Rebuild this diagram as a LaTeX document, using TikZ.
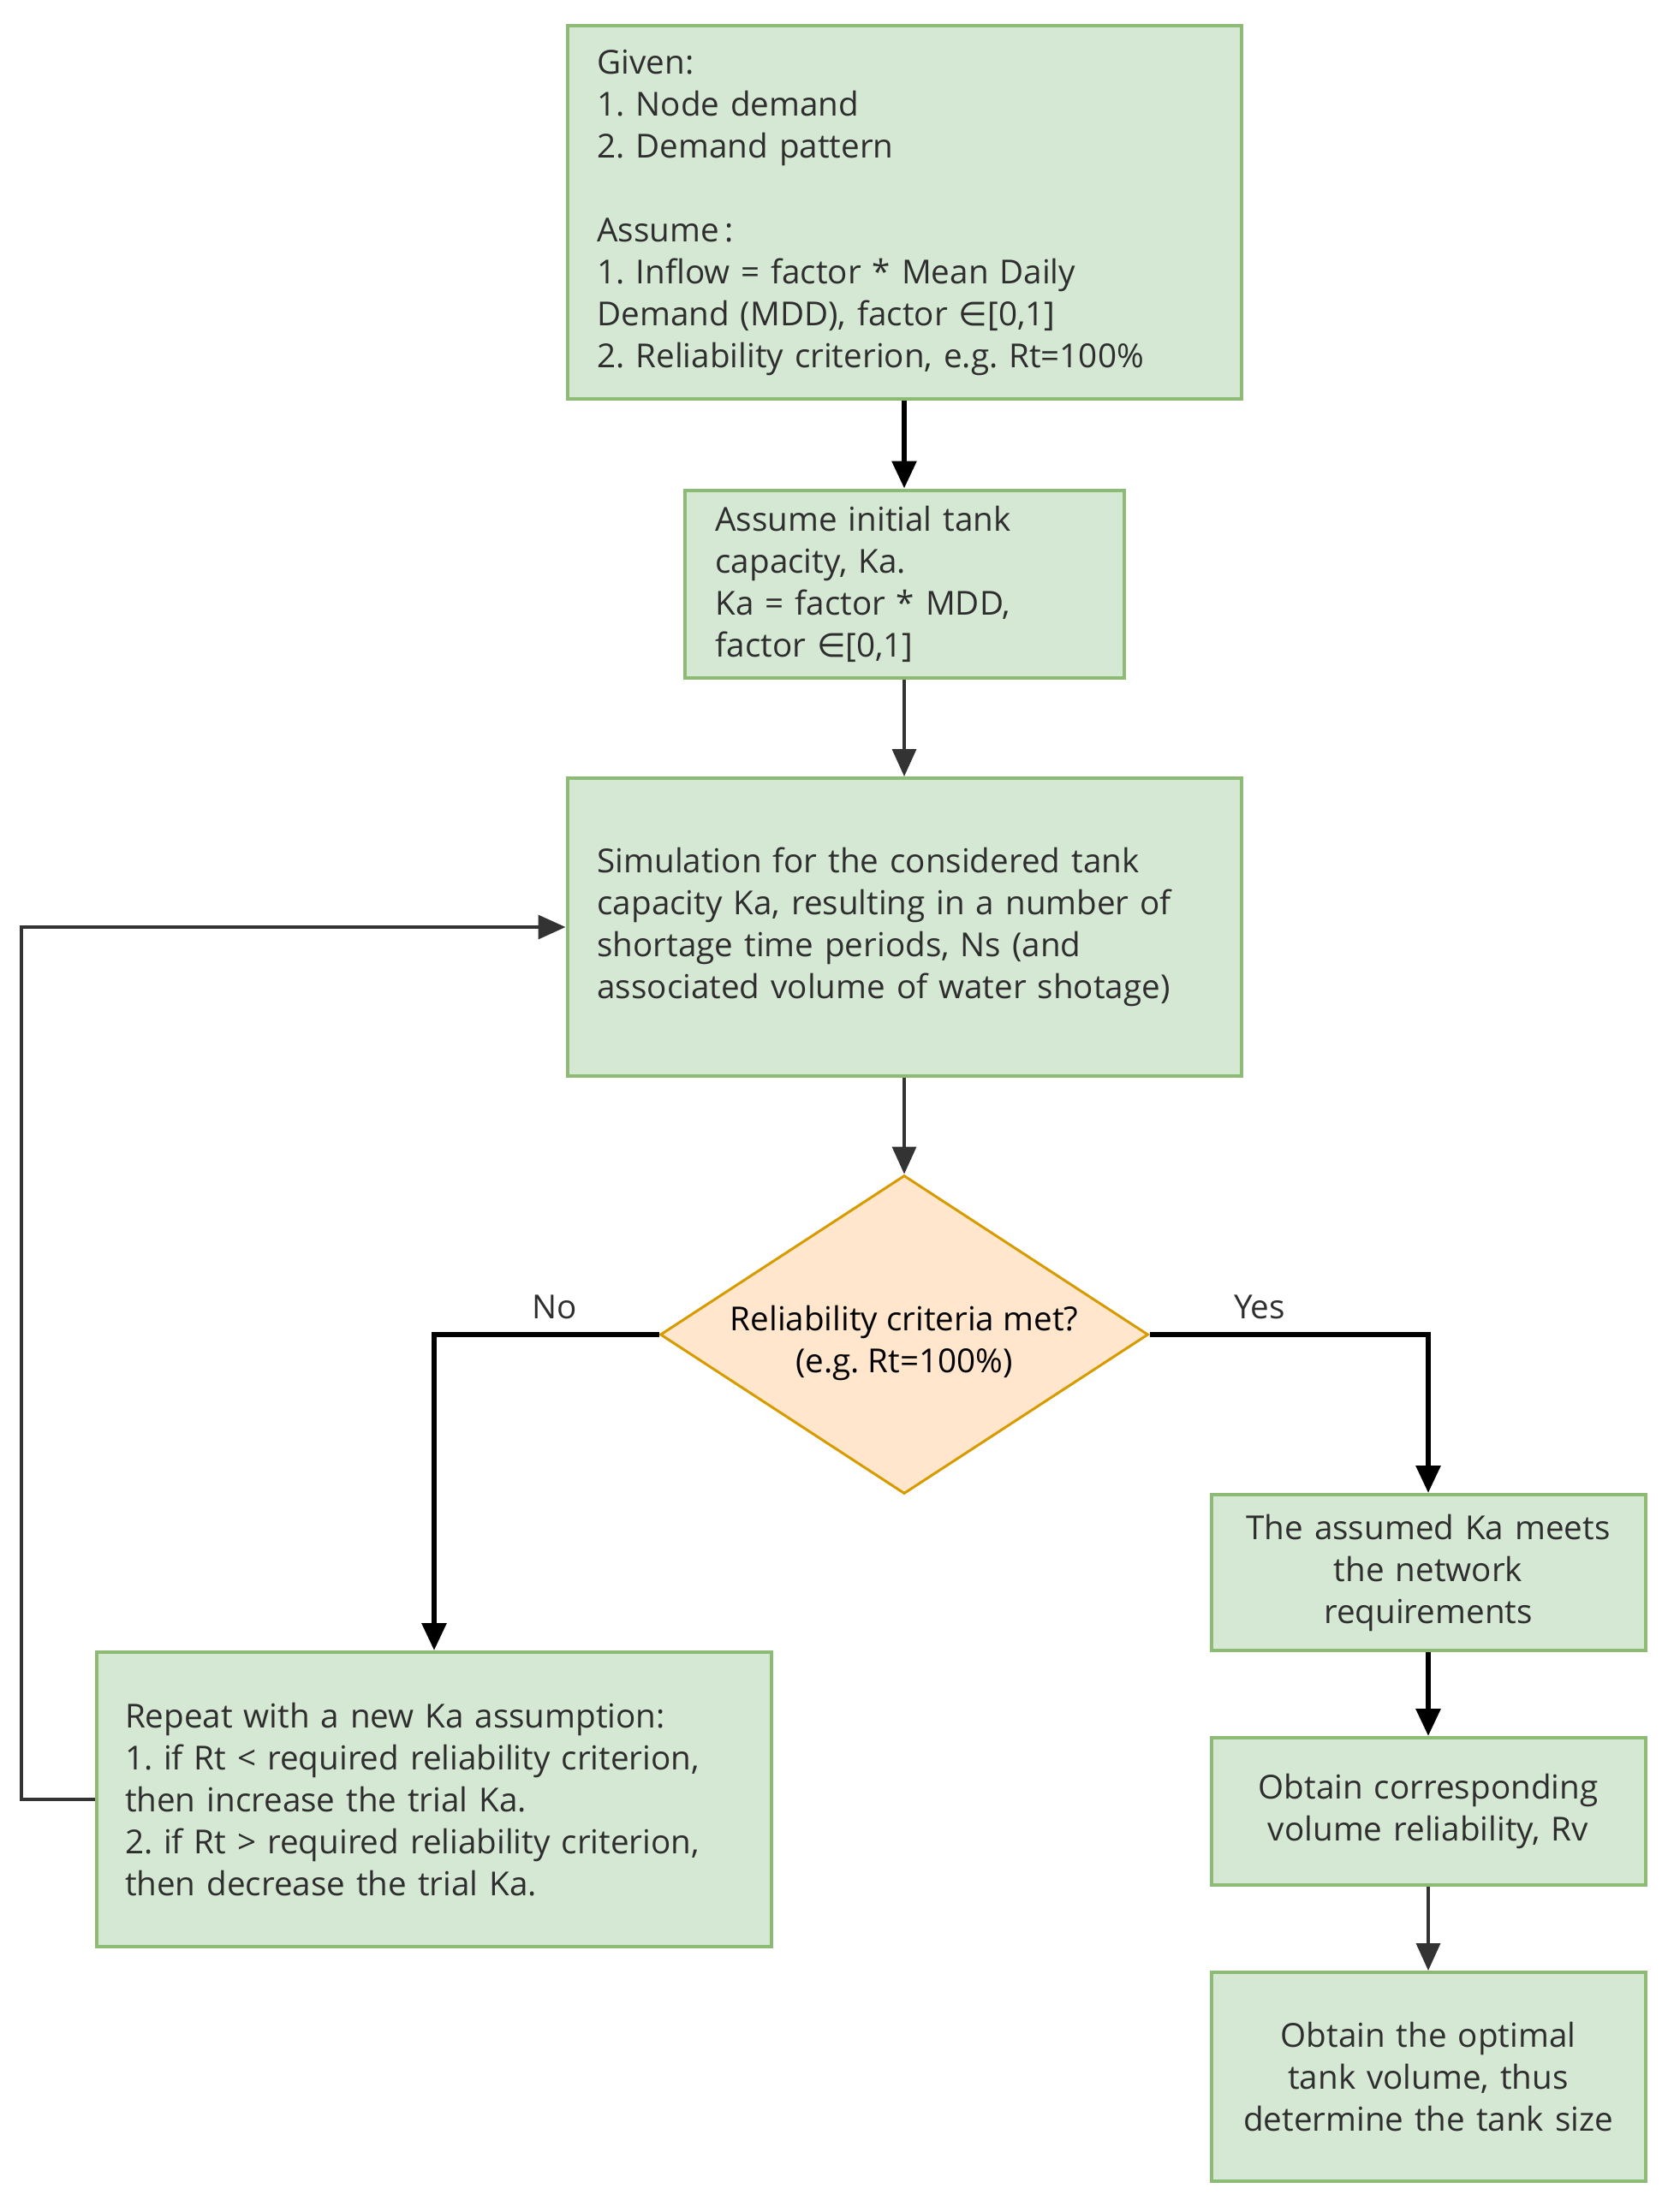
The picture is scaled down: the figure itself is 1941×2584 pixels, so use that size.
\documentclass[tikz,border=0pt]{standalone}
\usepackage{fontspec}
\setmainfont{Open Sans}
\newfontfamily\symf{DejaVu Sans}
\usetikzlibrary{shapes.geometric,arrows.meta}
\frenchspacing
\definecolor{gfill}{HTML}{D5E8D4}
\definecolor{gline}{HTML}{8DBA74}
\definecolor{ofill}{HTML}{FFE6CC}
\definecolor{oline}{HTML}{D79B00}
\definecolor{txt}{HTML}{2E2E2E}
\definecolor{thin}{HTML}{333333}
\newcommand{\elem}{{\symf ∈}}
\newcommand{\bodyfont}{\fontsize{19.3}{24.5}\selectfont\frenchspacing}
\tikzset{
  gbox/.style={draw=gline, fill=gfill, line width=2pt, inner ysep=0pt, text=txt,
    font=\bodyfont},
  dec/.style={shape=diamond, draw=oline, fill=ofill, line width=1.5pt, inner sep=0pt,
    minimum width=285pt, minimum height=186pt},
  dectext/.style={align=center, text=black, inner sep=0pt, font=\bodyfont},
  thickarrow/.style={draw=black, line width=3pt, -{Triangle[width=14pt,length=16pt]}},
  thinarrow/.style={draw=thin, line width=1.75pt, -{Triangle[width=14pt,length=16pt]}},
  lbl/.style={text=txt, font=\bodyfont, inner sep=0pt}
}
\begin{document}
\begin{tikzpicture}[x=0.5pt,y=-0.5pt]
\useasboundingbox (0,0) rectangle (1941,2584);
\node[gbox, text width=358.5pt, inner xsep=17.5pt, minimum height=218pt, align=left] (b1) at (1056,248)
 {Given:\\1. Node demand\\2. Demand pattern\\[24.5pt]Assume\,:\\1. Inflow = factor * Mean Daily\\Demand (MDD), factor \elem[0,1]\\2. Reliability criterion, e.g. Rt=100\%};
\node[gbox, text width=220.5pt, inner xsep=18pt, minimum height=109.5pt, align=left] (b2) at (1056,682)
 {Assume initial tank\\capacity, Ka.\\Ka = factor * MDD,\\factor \elem[0,1]};
\node[gbox, text width=358.5pt, inner xsep=17.5pt, minimum height=174pt, align=left] (b3) at (1056,1083)
 {Simulation for the considered tank\\capacity Ka, resulting in a number of\\shortage time periods, Ns (and\\associated volume of water shotage)};
\node[dec] (d) at (1056,1559) {};
\node[dectext] (dt) at (1056,1569) {Reliability criteria met?\\(e.g. Rt=100\%)};
\node[gbox, text width=361pt, inner xsep=16.5pt, minimum height=172pt, align=left] (b4) at (507,2102)
 {Repeat with a new Ka assumption:\\1. if Rt < required reliability criterion,\\then increase the trial Ka.\\2. if Rt > required reliability criterion,\\then decrease the trial Ka.};
\node[gbox, text width=243.5pt, inner xsep=5pt, minimum height=91pt, align=center] (b5) at (1668,1837)
 {The assumed Ka meets\\the network\\requirements};
\node[gbox, text width=243.5pt, inner xsep=5pt, minimum height=86pt, align=center] (b6) at (1668,2116)
 {Obtain corresponding\\volume reliability, Rv};
\node[gbox, text width=243.5pt, inner xsep=5pt, minimum height=122pt, align=center] (b7) at (1668,2426)
 {Obtain the optimal\\tank volume, thus\\determine the tank size};
\coordinate (fl) at (25,2102);
\coordinate (fu) at (25,1083);
\node[lbl] (no) at (648,1527) {No};
\node[lbl] (yes) at (1471,1527) {Yes};
\draw[thickarrow] (b1.south) -- (b2.north);
\draw[thinarrow] (b2.south) -- (b3.north);
\draw[thinarrow] (b3.south) -- (d.north);
\draw[thickarrow] (d.west) -| (b4.north);
\draw[thickarrow] (d.east) -| (b5.north);
\draw[thickarrow] (b5.south) -- (b6.north);
\draw[thinarrow] (b6.south) -- (b7.north);
\draw[thinarrow] (b4.west) -- (fl) -- (fu) -- (b3.west |- fu);
\end{tikzpicture}
\end{document}
